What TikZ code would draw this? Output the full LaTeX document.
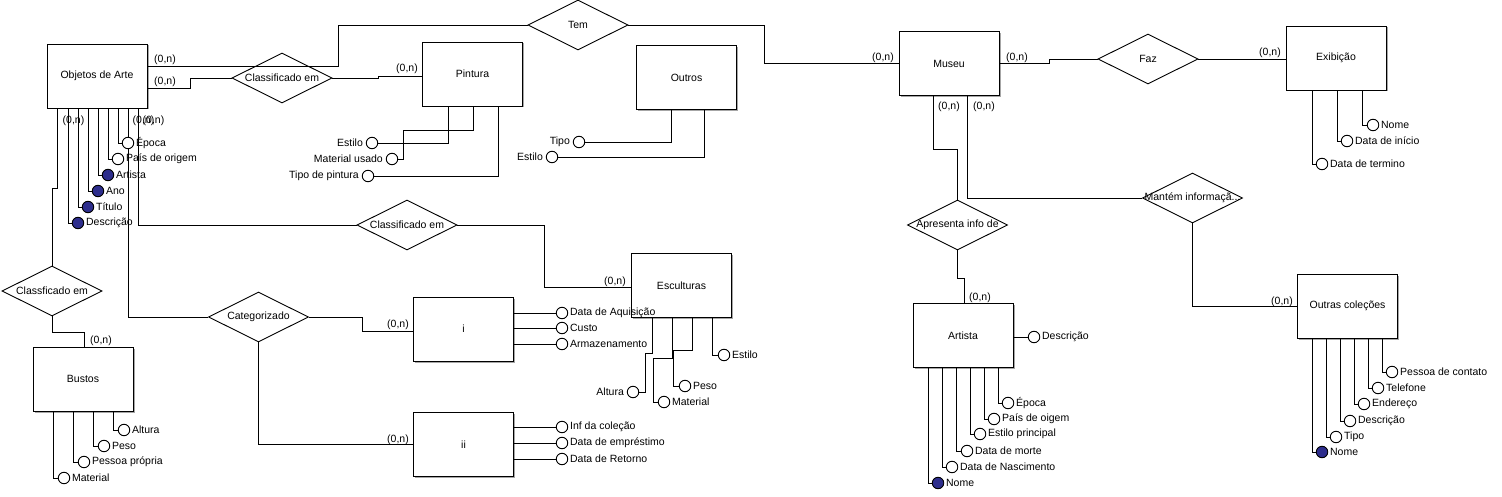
\documentclass[tikz,border=0pt]{standalone}
\usepackage{fontspec}
\setmainfont{Liberation Sans}
\usetikzlibrary{shapes.geometric,shadows}
\definecolor{keyblue}{RGB}{45,45,140}
\begin{document}
\begin{tikzpicture}[x=1pt,y=-1pt,line width=0.9pt,
  txt/.style={font=\fontsize{10.5}{12}\selectfont, inner sep=0pt},
  entity/.style={draw, fill=white, minimum width=100pt, minimum height=64pt, inner sep=0pt,
    font=\fontsize{10.5}{12}\selectfont,
    general shadow={fill=black!35, shadow xshift=1.5pt, shadow yshift=-1.5pt}},
  rel/.style={draw, diamond, fill=white, minimum width=100pt, minimum height=50pt, inner sep=0pt,
    label={[txt]center:#1}},
  attr/.style={draw, circle, fill=white, minimum size=11.5pt, inner sep=0pt},
  keyattr/.style={attr, fill=keyblue},
  lr/.style={label={[txt, label distance=1.5pt]right:#1}},
  ll/.style={label={[txt, label distance=2.5pt]left:#1}},
  card/.style={txt}
]
\useasboundingbox (0,0) rectangle (1502,497);

% entities
\node[entity] (obj) at (97,76) {Objetos de Arte};
\node[entity] (pint) at (472.5,74) {Pintura};
\node[entity] (outros) at (686.5,77.5) {Outros};
\node[entity] (esc) at (681.5,285.5) {Esculturas};
\node[entity] (bustos) at (83,379) {Bustos};
\node[entity] (ibox) at (463.5,329) {i};
\node[entity] (iibox) at (463.5,444.5) {ii};
\node[entity] (museu) at (949,63.5) {Museu};
\node[entity] (exib) at (1336,58) {Exibição};
\node[entity] (artista) at (963,335.5) {Artista};
\node[entity] (outras) at (1347.5,306) {Outras coleções};

% relationships
\node[rel=Tem] (tem) at (578,25) {};
\node[rel=Classificado em] (classA) at (282,78) {};
\node[rel=Classificado em] (classB) at (407,225) {};
\node[rel=Classficado em] (classC) at (52,291) {};
\node[rel=Categorizado] (categ) at (258.5,317) {};
\node[rel=Faz] (faz) at (1148,59) {};
\node[rel=Apresenta info de] (apres) at (957.5,225) {};
\node[rel=Mantém informaçã...] (mantem) at (1192.5,198) {};

% relationship connectors
\draw (obj.east |- 0,66) -- (338,66) |- (tem.west);
\draw (tem.east) -- (tem.east -| 764,0) |- (museu.west);
\draw (obj.east |- 0,88) -| (classA.west -| 190,0) -- (classA.west);
\draw (classA.east) -| (378,76) -- (pint.west |- 0,76);
\draw (obj.south -| 57,0) -- (57,188) -| (classC.north);
\draw (classC.south) |- (84,332) -- (bustos.north -| 84,0);
\draw (obj.south -| 128,0) |- (categ.west);
\draw (obj.south -| 138,0) |- (classB.west);
\draw (classB.east) -| (544,287) -- (esc.west |- 0,287);
\draw (categ.east) -| (362,331) -- (ibox.west |- 0,331);
\draw (categ.south) |- (iibox.west);
\draw (museu.east) -| (1049,59) -- (faz.west);
\draw (faz.east) -- (exib.west |- faz.east);
\draw (museu.south -| 933,0) |- (apres.north |- 0,149) -- (apres.north);
\draw (museu.south -| 967,0) |- (mantem.west);
\draw (apres.south) |- (964,278) -- (artista.north -| 964,0);
\draw (mantem.south) |- (outras.west);

% cardinalities
\node[card] (c1) at (165,60) {(0,n)};
\node[card] (c2) at (165,82) {(0,n)};
\node[card] (c3) at (407,69) {(0,n)};
\node[card] (c4) at (883,58) {(0,n)};
\node[card] (c5) at (1017,58) {(0,n)};
\node[card] (c6) at (1270,53) {(0,n)};
\node[card] (c7) at (949,107) {(0,n)};
\node[card] (c8) at (984,107) {(0,n)};
\node[card] (c9) at (980,298) {(0,n)};
\node[card] (c10) at (1282,302) {(0,n)};
\node[card] (c11) at (615,282) {(0,n)};
\node[card] (c12) at (398,325) {(0,n)};
\node[card] (c13) at (398,440) {(0,n)};
\node[card] (c14) at (101,341) {(0,n)};
\node[card] (c15) at (73.5,121) {(0,n)};
\node[card] (c16) at (143.5,121) {(0,n)};
\node[card] (c17) at (153.5,121) {(0,n)};

% Objetos de Arte attributes
\node[attr, lr=Época] (epocaO) at (128,143) {};
\node[attr, lr=País de origem] (paisO) at (118,159) {};
\node[keyattr, lr=Artista] (artistaO) at (108,175) {};
\node[keyattr, lr=Ano] (anoO) at (98,191) {};
\node[keyattr, lr=Título] (tituloO) at (88,207) {};
\node[keyattr, lr=Descrição] (descO) at (78,223) {};
\draw (obj.south -| 118,0) |- (epocaO.west);
\draw (obj.south -| 108,0) |- (paisO.west);
\draw (obj.south -| 98,0) |- (artistaO.west);
\draw (obj.south -| 88,0) |- (anoO.west);
\draw (obj.south -| 78,0) |- (tituloO.west);
\draw (obj.south -| 68,0) |- (descO.west);

% Pintura attributes
\node[attr, ll=Estilo] (estiloP) at (372,143) {};
\node[attr, ll=Material usado] (matP) at (392,159) {};
\node[attr, ll=Tipo de pintura] (tipoP) at (368,176) {};
\draw (pint.south -| 448,0) |- (estiloP.east);
\draw (pint.south -| 473,0) |- (403,130) |- (matP.east);
\draw (pint.south -| 498,0) |- (tipoP.east);

% Outros attributes
\node[attr, ll=Tipo] (tipoOu) at (579,142) {};
\node[attr, ll=Estilo] (estiloOu) at (552,157) {};
\draw (outros.south -| 671,0) |- (tipoOu.east);
\draw (outros.south -| 704,0) |- (estiloOu.east);

% i attributes
\node[attr, lr=Data de Aquisição] (aq) at (562,313) {};
\node[attr, lr=Custo] (custo) at (562,328) {};
\node[attr, lr=Armazenamento] (arm) at (562,344) {};
\foreach \n in {aq,custo,arm} \draw (ibox.east |- \n.west) -- (\n.west);

% ii attributes
\node[attr, lr=Inf da coleção] (inf) at (562,427) {};
\node[attr, lr=Data de empréstimo] (emp) at (562,443) {};
\node[attr, lr=Data de Retorno] (ret) at (562,459) {};
\foreach \n in {inf,emp,ret} \draw (iibox.east |- \n.west) -- (\n.west);

% Esculturas attributes
\node[attr, ll=Altura] (altE) at (633,392) {};
\node[attr, lr=Material] (matE) at (664,402) {};
\node[attr, lr=Peso] (pesoE) at (685,386) {};
\node[attr, lr=Estilo] (estiloE) at (724,355) {};
\draw (esc.south -| 652,0) |- (645,353) |- (altE.east);
\draw (esc.south -| 672,0) |- (653,358) |- (matE.west);
\draw (esc.south -| 692,0) |- (673,350) |- (pesoE.west);
\draw (esc.south -| 712,0) |- (estiloE.west);

% Bustos attributes
\node[attr, lr=Altura] (altB) at (124,430) {};
\node[attr, lr=Peso] (pesoB) at (104,446) {};
\node[attr, lr=Pessoa própria] (pessB) at (84,462) {};
\node[attr, lr=Material] (matB) at (64,478) {};
\draw (bustos.south -| 113,0) |- (altB.west);
\draw (bustos.south -| 93,0) |- (pesoB.west);
\draw (bustos.south -| 73,0) |- (pessB.west);
\draw (bustos.south -| 53,0) |- (matB.west);

% Exibicao attributes
\node[attr, lr=Nome] (nomeEx) at (1373,125) {};
\node[attr, lr=Data de início] (inicioEx) at (1347,141) {};
\node[attr, lr=Data de termino] (terminoEx) at (1322,164) {};
\draw (exib.south -| 1362,0) |- (nomeEx.west);
\draw (exib.south -| 1337,0) |- (inicioEx.west);
\draw (exib.south -| 1312,0) |- (terminoEx.west);

% Artista attributes
\node[attr, lr=Descrição] (descA) at (1034,337) {};
\draw (artista.east |- descA.west) -- (descA.west);
\node[attr, lr=Época] (epocaA) at (1008,403) {};
\node[attr, lr=País de oigem] (paisA) at (994,419) {};
\node[attr, lr=Estilo principal] (estiloA) at (980,434) {};
\node[attr, lr=Data de morte] (morteA) at (967,451) {};
\node[attr, lr=Data de Nascimento] (nascA) at (952,467) {};
\node[keyattr, lr=Nome] (nomeA) at (938,483) {};
\draw (artista.south -| 998,0) |- (epocaA.west);
\draw (artista.south -| 984,0) |- (paisA.west);
\draw (artista.south -| 970,0) |- (estiloA.west);
\draw (artista.south -| 956,0) |- (morteA.west);
\draw (artista.south -| 942,0) |- (nascA.west);
\draw (artista.south -| 928,0) |- (nomeA.west);

% Outras colecoes attributes
\node[attr, lr=Pessoa de contato] (pessOC) at (1392,372) {};
\node[attr, lr=Telefone] (telOC) at (1378,388) {};
\node[attr, lr=Endereço] (endOC) at (1364,404) {};
\node[attr, lr=Descrição] (descOC) at (1350,421) {};
\node[attr, lr=Tipo] (tipoOC) at (1336,437) {};
\node[keyattr, lr=Nome] (nomeOC) at (1322,452) {};
\draw (outras.south -| 1382,0) |- (pessOC.west);
\draw (outras.south -| 1368,0) |- (telOC.west);
\draw (outras.south -| 1354,0) |- (endOC.west);
\draw (outras.south -| 1340,0) |- (descOC.west);
\draw (outras.south -| 1326,0) |- (tipoOC.west);
\draw (outras.south -| 1312,0) |- (nomeOC.west);
\end{tikzpicture}
\end{document}
